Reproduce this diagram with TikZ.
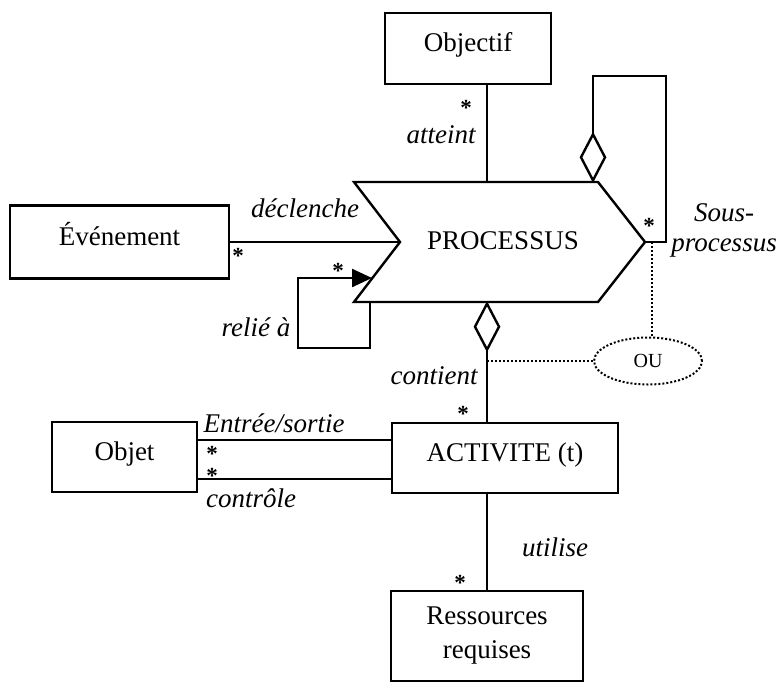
\documentclass[tikz,border=0pt]{standalone}
\usepackage{fontspec}
\setmainfont{Liberation Serif}
\usetikzlibrary{shapes.geometric,arrows.meta}

\begin{document}
\begin{tikzpicture}[
            x=0.5pt, y=-0.5pt,
            font=\fontsize{13.5}{17}\selectfont,
            line width=1.2pt,
            box/.style={draw, rectangle, inner sep=0pt, text height=9pt, text depth=6pt},
            twobox/.style={draw, rectangle, inner sep=0pt, align=center},
            agg/.style={draw, diamond, inner sep=0pt, minimum width=12.5pt, minimum height=23.5pt},
            role/.style={font=\fontsize{13.5}{15}\selectfont\itshape, inner sep=1pt},
            mult/.style={font=\fontsize{11.5}{12}\selectfont\bfseries, inner sep=0pt, text height=8pt, text depth=-3.5pt},
            orline/.style={densely dotted, line width=1pt}
        ]
        \useasboundingbox (0,0) rectangle (780,686);

        % Processus
        \coordinate (pnotch) at (400,242);
        \coordinate (ptip) at (645,242);
        \draw (354,182) -- (598,182) -- (ptip) -- (598,302) -- (354,302) -- (pnotch) -- cycle;
        \node (proc) at (503,241) {PROCESSUS};

        % Boxes
        \node[box, minimum width=83pt, minimum height=35.5pt] (objectif) at (468,48.5) {Objectif};
        \node[box, minimum width=109.5pt, minimum height=36.5pt] (evenement) at (119.5,242) {Événement};
        \node[box, minimum width=72.5pt, minimum height=35pt] (objet) at (124.5,457) {Objet};
        \node[box, minimum width=113pt, minimum height=35pt] (activite) at (505,458) {ACTIVITE (t)};
        \node[twobox, minimum width=96pt, minimum height=45pt] (ressources) at (487,636) {Ressources\\requises};

        % Aggregation diamonds
        \node[agg, anchor=south] (dtop) at (593,182) {};
        \node[agg, anchor=north] (dbot) at (487,302) {};

        % OU
        \node[draw, ellipse, orline, minimum width=54pt, minimum height=23.5pt, font=\fontsize{10}{12}\selectfont] (ou) at (648,361) {OU};

        % Edges
        \coordinate (patt) at (487,182);
        \draw (objectif.south -| patt) -- (patt);
        \draw (evenement.east |- pnotch) -- (pnotch);
        \draw (dtop.north) |- (666,76) |- (ptip);
        \coordinate (pbot) at (370,302);
        \coordinate (pedge) at (372,278);
        \draw[-{Triangle[length=10pt,width=9pt]}] (pbot) |- (298,348) |- (pedge);
        \draw (dbot.south) -- (dbot.south |- activite.north);
        \draw (objet.east |- 0,440) -- (activite.west |- 0,440);
        \draw (objet.east |- 0,479) -- (activite.west |- 0,479);
        \draw (activite.south -| ressources.north) -- (ressources.north);

        % Dotted OU links
        \coordinate (psub) at (652,242);
        \draw[orline] (psub) -- (psub |- ou.north);
        \draw[orline] (dbot.south |- ou.west) -- (ou.west);

        % Role labels
        \node[role] at (441,135) {atteint};
        \node[role] at (305,208) {déclenche};
        \node[role] at (256,327) {relié à};
        \node[role] at (434,376) {contient};
        \node[role] at (274,423) {Entrée/sortie};
        \node[role] at (251,498) {contrôle};
        \node[role] at (555,547) {utilise};
        \node[role, align=center] at (724,230) {Sous-\\processus};

        % Multiplicities
        \node[mult] at (466,107) {*};
        \node[mult] at (238,255) {*};
        \node[mult] at (338,270) {*};
        \node[mult] at (649,225) {*};
        \node[mult] at (463,413) {*};
        \node[mult] at (212,453) {*};
        \node[mult] at (212,475) {*};
        \node[mult] at (460,582) {*};

    \end{tikzpicture}
\end{document}
